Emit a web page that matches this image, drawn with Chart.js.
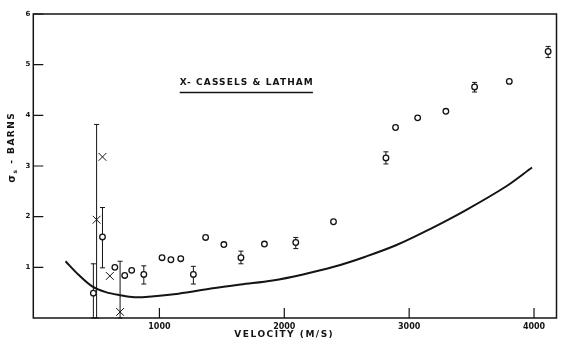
<!DOCTYPE html>
<html>
<head>
<meta charset="utf-8">
<script src="https://cdn.jsdelivr.net/npm/chart.js@4.4.1/dist/chart.umd.min.js"></script>
<style>
  html, body { margin: 0; padding: 0; background: #fff; }
  #wrap { width: 563px; height: 346px; }
</style>
</head>
<body>
<div id="wrap"><canvas id="c" width="563" height="346"></canvas></div>
<script>
// ---- data ----
const xTickValues = [1000, 2000, 3000, 4000];
const yTickValues = [1, 2, 3, 4, 5, 6];

// open circles (measured cross sections)
const circleVel   = [471, 544, 643, 722, 778, 875, 1021, 1092, 1171, 1272, 1370, 1516, 1653, 1841, 2092, 2394, 2814, 2891, 3068, 3294, 3524, 3802, 4113];
const circleSigma = [0.49, 1.60, 1.00, 0.84, 0.94, 0.86, 1.19, 1.15, 1.17, 0.86, 1.59, 1.45, 1.19, 1.46, 1.49, 1.90, 3.16, 3.76, 3.95, 4.08, 4.56, 4.67, 5.26];
const circleLow   = [0.00, 0.99, null, null, null, 0.67, null, null, null, 0.67, null, null, 1.07, null, 1.37, null, 3.04, null, null, null, 4.46, null, 5.14];
const circleHigh  = [1.07, 2.18, null, null, null, 1.03, null, null, null, 1.02, null, null, 1.32, null, 1.59, null, 3.28, null, null, null, 4.65, null, 5.36];

// crosses (Cassels & Latham)
const crossVel   = [497, 544, 603, 685];
const crossSigma = [1.94, 3.18, 0.83, 0.12];
const crossLow   = [0.00, null, null, 0.00];
const crossHigh  = [3.82, null, null, 1.12];

// solid theoretical curve
const curveVel   = [248, 350, 465, 571, 685, 800, 915, 1153, 1413, 1650, 1907, 2150, 2397, 2650, 2899, 3163, 3455, 3772, 3984];
const curveSigma = [1.12, 0.86, 0.62, 0.51, 0.45, 0.41, 0.42, 0.48, 0.58, 0.66, 0.74, 0.86, 1.01, 1.21, 1.44, 1.75, 2.13, 2.59, 2.97];

const xTitle = 'VELOCITY (M/S)';
const yTitleMain = 'σ';
const yTitleSub = 's';
const yTitleRest = ' - BARNS';
const noteText = 'X- CASSELS & LATHAM';

const INK = '#141414';
const FONT = '"DejaVu Sans", sans-serif';

const toXY = (xs, ys) => xs.map((x, i) => ({ x: x, y: ys[i] }));

const decor = {
  id: 'decor',
  beforeDatasetsDraw(chart) {
    const ctx = chart.ctx;
    const xs = chart.scales.x, ys = chart.scales.y;
    ctx.save();
    ctx.strokeStyle = INK;
    ctx.lineWidth = 1;
    const bars = (vel, lo, hi) => {
      vel.forEach((v, i) => {
        if (lo[i] === null || hi[i] === null) return;
        const px = xs.getPixelForValue(v);
        const y1 = ys.getPixelForValue(lo[i]);
        const y2 = ys.getPixelForValue(hi[i]);
        ctx.beginPath();
        ctx.moveTo(px, y1); ctx.lineTo(px, y2);
        ctx.moveTo(px - 2.5, y1); ctx.lineTo(px + 2.5, y1);
        ctx.moveTo(px - 2.5, y2); ctx.lineTo(px + 2.5, y2);
        ctx.stroke();
      });
    };
    bars(circleVel, circleLow, circleHigh);
    bars(crossVel, crossLow, crossHigh);
    ctx.restore();
  },
  afterDraw(chart) {
    const ctx = chart.ctx;
    const a = chart.chartArea;
    const xs = chart.scales.x, ys = chart.scales.y;
    ctx.save();
    // frame
    ctx.strokeStyle = INK;
    ctx.lineWidth = 1.5;
    ctx.strokeRect(a.left, a.top, a.right - a.left, a.bottom - a.top);
    // inward ticks
    ctx.lineWidth = 1.2;
    ctx.beginPath();
    xTickValues.forEach(v => {
      const px = xs.getPixelForValue(v);
      ctx.moveTo(px, a.bottom); ctx.lineTo(px, a.bottom - 10);
    });
    yTickValues.forEach(v => {
      const py = ys.getPixelForValue(v);
      ctx.moveTo(a.left, py); ctx.lineTo(a.left + 10, py);
    });
    ctx.stroke();

    ctx.fillStyle = INK;
    // x title
    ctx.font = 'bold 9px ' + FONT;
    if ('letterSpacing' in ctx) ctx.letterSpacing = '1.5px';
    ctx.textAlign = 'center';
    ctx.textBaseline = 'middle';
    ctx.fillText(xTitle, xs.getPixelForValue(2000), a.bottom + 17);

    // y title (rotated, with subscript)
    ctx.save();
    ctx.translate(12, ys.getPixelForValue(3.37));
    ctx.rotate(-Math.PI / 2);
    ctx.textAlign = 'left';
    ctx.textBaseline = 'middle';
    ctx.font = 'bold 10px ' + FONT;
    const wMain = ctx.measureText(yTitleMain).width;
    ctx.font = 'bold 6px ' + FONT;
    const wSub = ctx.measureText(yTitleSub).width;
    ctx.font = 'bold 9px ' + FONT;
    const wRest = ctx.measureText(yTitleRest).width;
    let x0 = -(wMain + wSub + wRest) / 2;
    ctx.font = 'bold 10px ' + FONT;
    ctx.fillText(yTitleMain, x0, 0);
    ctx.font = 'bold 6px ' + FONT;
    ctx.fillText(yTitleSub, x0 + wMain, 3);
    ctx.font = 'bold 9px ' + FONT;
    ctx.fillText(yTitleRest, x0 + wMain + wSub, 0);
    ctx.restore();

    // annotation
    ctx.font = 'bold 9px ' + FONT;
    if ('letterSpacing' in ctx) ctx.letterSpacing = '1.1px';
    ctx.textAlign = 'center';
    ctx.textBaseline = 'middle';
    const nx = xs.getPixelForValue(1700);
    const ny = ys.getPixelForValue(4.65);
    ctx.fillText(noteText, nx, ny);
    const tw = ctx.measureText(noteText).width;
    const uy = ys.getPixelForValue(4.45);
    ctx.lineWidth = 1.5;
    ctx.beginPath();
    ctx.moveTo(nx - tw / 2, uy); ctx.lineTo(nx + tw / 2 - 1, uy);
    ctx.stroke();
    ctx.restore();
  }
};

new Chart(document.getElementById('c'), {
  data: {
    datasets: [
      {
        type: 'line',
        data: toXY(curveVel, curveSigma),
        borderColor: INK,
        borderWidth: 2,
        pointRadius: 0,
        tension: 0.35,
        fill: false,
        order: 3
      },
      {
        type: 'scatter',
        data: toXY(circleVel, circleSigma),
        pointStyle: 'circle',
        pointRadius: 2.8,
        borderWidth: 1.3,
        borderColor: INK,
        backgroundColor: '#ffffff',
        order: 1
      },
      {
        type: 'scatter',
        data: toXY(crossVel, crossSigma),
        pointStyle: 'crossRot',
        pointRadius: 5.5,
        borderWidth: 1,
        borderColor: INK,
        backgroundColor: INK,
        order: 2
      }
    ]
  },
  options: {
    responsive: false,
    animation: false,
    devicePixelRatio: 1,
    layout: { padding: { left: 0, right: 1.5, top: 14, bottom: 0 } },
    plugins: { legend: { display: false }, tooltip: { enabled: false } },
    scales: {
      x: {
        type: 'linear',
        min: -10,
        max: 4180,
        afterBuildTicks: s => { s.ticks = xTickValues.map(v => ({ value: v })); },
        afterFit: s => { s.height = 28; },
        grid: { display: false, drawTicks: false },
        border: { display: false },
        ticks: {
          padding: 4,
          color: INK,
          font: { family: FONT, size: 8, weight: 'bold' },
          callback: v => String(v),
          maxRotation: 0
        }
      },
      y: {
        type: 'linear',
        min: 0,
        max: 6,
        afterBuildTicks: s => { s.ticks = yTickValues.map(v => ({ value: v })); },
        afterFit: s => { s.width = 33.3; },
        grid: { display: false, drawTicks: false },
        border: { display: false },
        ticks: {
          padding: 3,
          color: INK,
          font: { family: FONT, size: 7, weight: 'bold' },
          callback: v => String(v)
        }
      }
    }
  },
  plugins: [decor]
});
</script>
</body>
</html>
